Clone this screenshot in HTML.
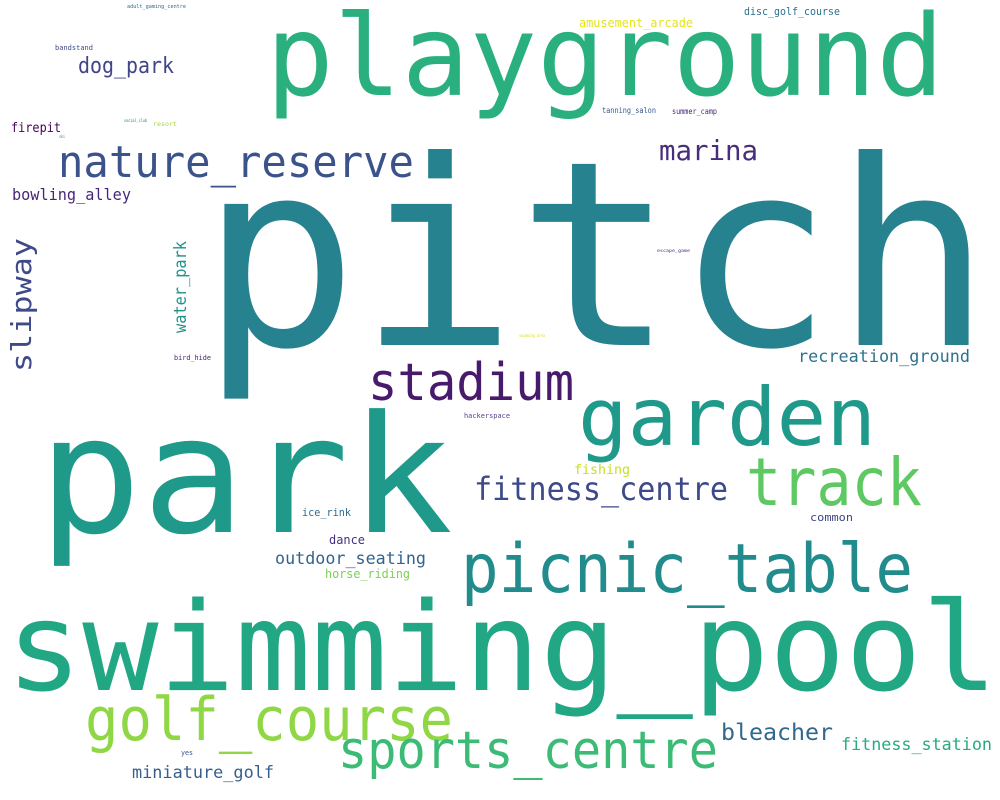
<!DOCTYPE html>
<html><head><meta charset="utf-8"><style>
html,body{margin:0;padding:0;background:#fff;}
svg{display:block;}
text{font-family:"DejaVu Sans Mono","Liberation Mono",monospace;}
</style></head><body>
<svg id="cloud" width="1000" height="800" viewBox="0 0 1000 800"></svg>
<script>
const words=["pitch","playground","park","swimming_pool","garden","track","picnic_table","golf_course","sports_centre","nature_reserve","stadium","fitness_centre","marina","dog_park","slipway","water_park","bowling_alley","recreation_ground","bleacher","fitness_station","miniature_golf","outdoor_seating","horse_riding","dance","ice_rink","fishing","common","firepit","amusement_arcade","disc_golf_course","tanning_salon","summer_camp","bandstand","adult_gaming_centre","social_club","resort","ski","bird_hide","hackerspace","yes","escape_game","swimming_area"];
const weights=[258,112,163,123,80,66,68,60,52,44,52,32,28,22,28,17,16,17,23,17,17,17,12,12,11,13,11,13,12,11,8,8,7,5,4,6,4,7,7,7,4,4];
const colors=["#26828e","#2ab07f","#1f9a8a","#22a785","#1f998a","#5ec962","#228c8d","#8fd744","#3bbb75","#3b528b","#481a6c","#3e4989","#472d7b","#414487","#3e4a89","#21918c","#482677","#2c728e","#31688e","#25ab82","#355f8d","#33638d","#7ad151","#46327e","#2f6c8e","#c8e020","#3f4788","#450457","#e5e419","#2d708e","#38598c","#482878","#3e4989","#31688e","#2a788e","#a0da39","#21918c","#481f70","#5c3e8e","#3b528b","#46327e","#dde318"];
// layout: [x, baselineY, width, rotated]
const layout=[[200,345,792,0],[266,95,678,0],[38,532,415,0],[6,690,992,0],[578,445,298,0],[746,505,176,0],[461,592,452,0],[85,740,368,0],[338,768,380,0],[58,177,356,0],[368,400,206,0],[474,500,254,0],[659,160,99,0],[78,73,96,0],[31,372,134,1],[186,333,92,1],[12,200,119,0],[798,362,172,0],[721,740,112,0],[841,750,151,0],[132,778,142,0],[275,564,151,0],[325,578,85,0],[329,544,36,0],[302,516,49,0],[574,474,56,0],[810,521,43,0],[11,132,50,0],[579,27,114,0],[744,15,96,0],[602,113,54,0],[672,114,45,0],[55,50,38,0],[127,8,59,0],[124,122,23,0],[153,126,24,0],[59,138,6,0],[174,360,37,0],[464,418,46,0],[181,755,12,0],[657,252,33,0],[519,337,26,0]];
const svg=document.getElementById('cloud');
const NS="http://www.w3.org/2000/svg";
words.forEach((w,i)=>{
  const [x,y,len,rot]=layout[i];
  const t=document.createElementNS(NS,'text');
  
  
  t.setAttribute('font-size',weights[i]);
  t.setAttribute('fill',colors[i]);
  t.setAttribute('textLength',len);
  t.setAttribute('lengthAdjust','spacingAndGlyphs');
  if(rot){
    t.setAttribute('x',0);t.setAttribute('y',0);
    t.setAttribute('transform','translate('+x+','+y+') rotate(-90)');
  } else {
    t.setAttribute('x',x);t.setAttribute('y',y);
  }
  t.textContent=w;
  svg.appendChild(t);
});
</script>
</body></html>
